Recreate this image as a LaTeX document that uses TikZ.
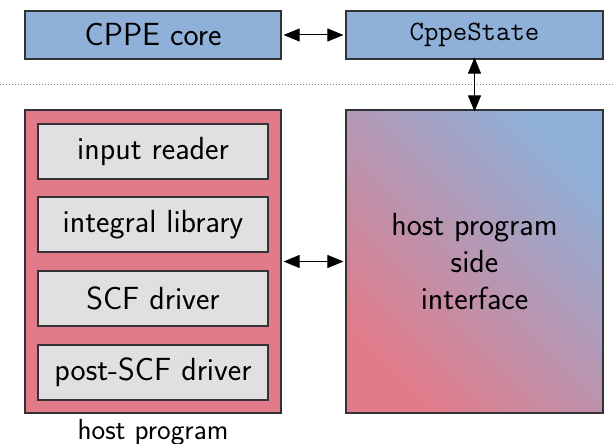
\documentclass[tikz,border=0pt]{standalone}
\usetikzlibrary{arrows.meta}
\definecolor{coreblue}{RGB}{143,176,216}
\definecolor{hostred}{RGB}{226,123,137}
\definecolor{modgray}{RGB}{224,224,224}
\definecolor{edgegray}{RGB}{50,50,55}
\begin{document}
\begin{tikzpicture}[x=1pt,y=-1pt,
  every node/.style={font=\fontsize{32}{37}\selectfont\sffamily, text=black},
  box/.style={draw=edgegray, line width=1.2pt, rectangle, inner sep=0pt, align=center},
  corebox/.style={box, fill=coreblue, minimum width=256pt, minimum height=48pt},
  bigbox/.style={box, minimum width=257pt, minimum height=303pt},
  modbox/.style={box, fill=modgray, minimum width=230pt, minimum height=55pt},
  link/.style={line width=1pt, {Triangle[length=16pt,width=13pt]}-{Triangle[length=16pt,width=13pt]}},
  sep/.style={dotted, gray, line width=1pt}]
\useasboundingbox (0,0) rectangle (614,444);

% separator between CPPE and host side
\coordinate (sepL) at (0,85);
\coordinate (sepR) at (614,85);
\draw[sep] (sepL) -- (sepR);

% CPPE side
\node[corebox] (core) at (153,35) {CPPE core};
\node[corebox, minimum width=257pt, font=\fontsize{28}{33}\selectfont\ttfamily] (state) at (474.5,35) {CppeState};

% host program with its modules
\node[bigbox, fill=hostred, minimum width=256pt] (host) at (153,261.5) {};
\node[modbox] (reader) at (153,151.5) {input reader};
\node[modbox] (integral) at (153,224.5) {integral library};
\node[modbox] (scf) at (153,298.5) {SCF driver};
\node[modbox] (postscf) at (153,372.5) {post-SCF driver};
\node[anchor=base, inner sep=0pt, font=\fontsize{29}{34}\selectfont\sffamily] (hostlabel) at (153,439) {host program};

% interface with diagonal shading
\node[bigbox, bottom color=hostred, top color=coreblue, shading angle=-45] (iface) at (474.5,261.5) {host program\\side\\interface};

% connectors
\draw[link] ([xshift=2pt]core.east) -- ([xshift=-2pt]state.west);
\draw[link] ([yshift=2pt]state.south) -- ([yshift=-2pt]iface.north);
\draw[link] ([xshift=2pt]host.east) -- ([xshift=-2pt]iface.west);
\end{tikzpicture}
\end{document}
